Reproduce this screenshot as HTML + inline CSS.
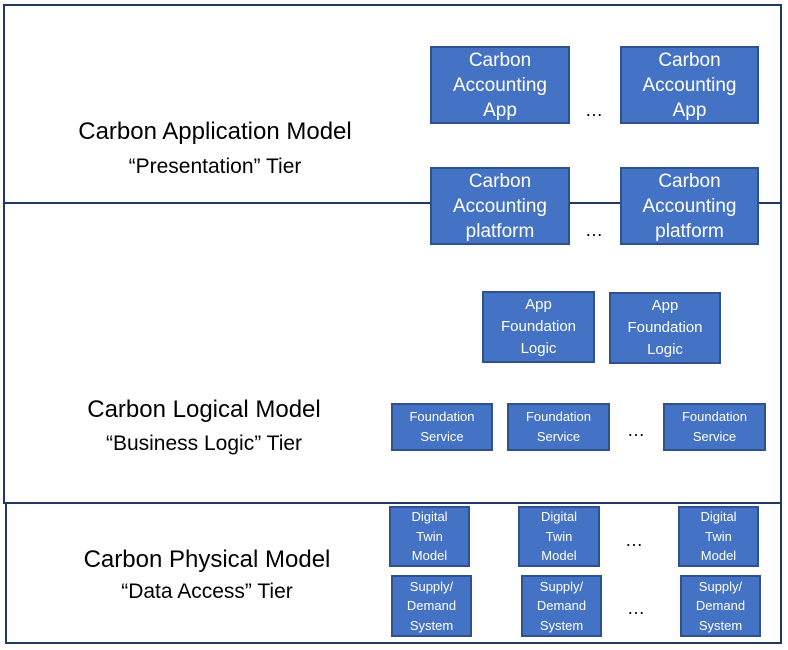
<!DOCTYPE html>
<html><head><meta charset="utf-8"><style>
body{margin:0;width:788px;height:650px;background:#fff;position:relative;font-family:"Liberation Sans",sans-serif;overflow:hidden}
.a{position:absolute;box-sizing:border-box}
.fr{border:2px solid #1F3864}
.b{position:absolute;box-sizing:border-box;background:#4472C4;border:2px solid #2F528F;color:#fff;display:flex;align-items:center;justify-content:center;text-align:center}
.t{position:absolute;text-align:center;color:#000;width:420px}
.d{position:absolute;font-size:18px;letter-spacing:0px}
</style></head><body>
<div class="a fr" style="left:3px;top:4px;width:779px;height:500px"></div>
<div class="a" style="left:3px;top:202px;width:779px;height:2px;background:#1F3864"></div>
<div class="a fr" style="left:5px;top:502px;width:777px;height:142px"></div>

<div class="t" style="left:5px;top:118px;font-size:24px">Carbon Application Model</div>
<div class="t" style="left:5px;top:155px;font-size:21px">“Presentation” Tier</div>
<div class="t" style="left:-6px;top:396px;font-size:24px">Carbon Logical Model</div>
<div class="t" style="left:-6px;top:432px;font-size:21px">“Business Logic” Tier</div>
<div class="t" style="left:-3px;top:546px;font-size:24px">Carbon Physical Model</div>
<div class="t" style="left:-3px;top:580px;font-size:21px">“Data Access” Tier</div>

<div class="b" style="left:430px;top:46px;width:140px;height:78px;font-size:19px;line-height:25px">Carbon<br>Accounting<br>App</div>
<div class="b" style="left:620px;top:46px;width:139px;height:78px;font-size:19px;line-height:25px">Carbon<br>Accounting<br>App</div>
<div class="b" style="left:430px;top:167px;width:140px;height:78px;font-size:19px;line-height:25px">Carbon<br>Accounting<br>platform</div>
<div class="b" style="left:620px;top:167px;width:139px;height:78px;font-size:19px;line-height:25px">Carbon<br>Accounting<br>platform</div>
<div class="d" style="left:585px;top:100px">…</div>
<div class="d" style="left:585px;top:220px">…</div>

<div class="b" style="left:482px;top:291px;width:113px;height:72px;font-size:15px;line-height:22px">App<br>Foundation<br>Logic</div>
<div class="b" style="left:609px;top:292px;width:112px;height:72px;font-size:15px;line-height:22px">App<br>Foundation<br>Logic</div>

<div class="b" style="left:391px;top:403px;width:102px;height:48px;font-size:13px;line-height:20px">Foundation<br>Service</div>
<div class="b" style="left:507px;top:403px;width:103px;height:48px;font-size:13px;line-height:20px">Foundation<br>Service</div>
<div class="b" style="left:663px;top:403px;width:103px;height:48px;font-size:13px;line-height:20px">Foundation<br>Service</div>
<div class="d" style="left:627px;top:420px">…</div>

<div class="b" style="left:389px;top:506px;width:81px;height:61px;font-size:13px;line-height:19.5px">Digital<br>Twin<br>Model</div>
<div class="b" style="left:518px;top:506px;width:82px;height:61px;font-size:13px;line-height:19.5px">Digital<br>Twin<br>Model</div>
<div class="b" style="left:678px;top:506px;width:81px;height:61px;font-size:13px;line-height:19.5px">Digital<br>Twin<br>Model</div>
<div class="d" style="left:625px;top:530px">…</div>
<div class="b" style="left:391px;top:575px;width:81px;height:62px;font-size:13px;line-height:19.5px">Supply/<br>Demand<br>System</div>
<div class="b" style="left:521px;top:575px;width:81px;height:62px;font-size:13px;line-height:19.5px">Supply/<br>Demand<br>System</div>
<div class="b" style="left:680px;top:575px;width:81px;height:62px;font-size:13px;line-height:19.5px">Supply/<br>Demand<br>System</div>
<div class="d" style="left:627px;top:598px">…</div>
</body></html>
